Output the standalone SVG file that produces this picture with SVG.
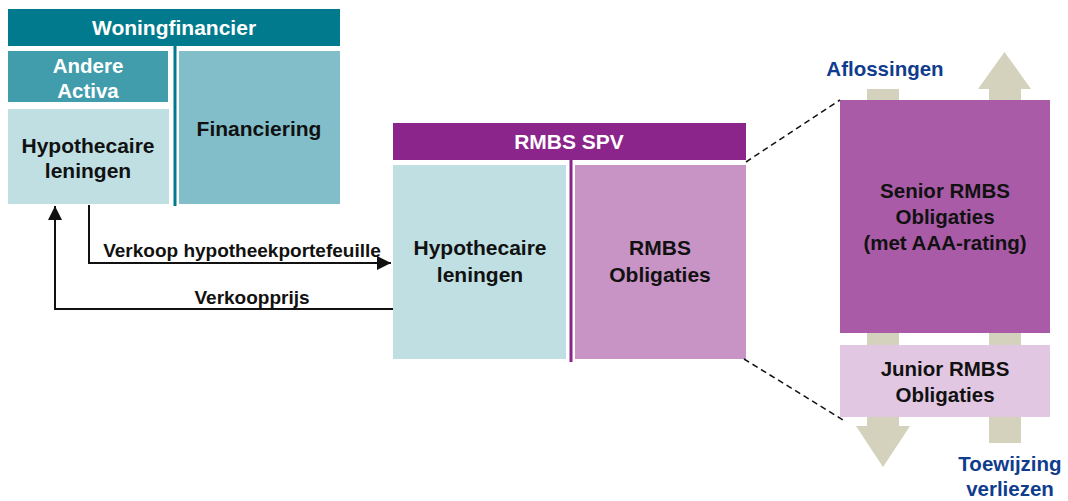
<svg xmlns="http://www.w3.org/2000/svg" width="1068" height="501" viewBox="0 0 1068 501">
<defs>
<style>
text{font-family:"Liberation Sans",Arial,sans-serif;font-weight:bold;text-anchor:middle}
.w{fill:#fff}
.k{fill:#111}
.b{fill:#103C8E}
.f21{font-size:21px}
.f20{font-size:20.5px}
.f19{font-size:19px}
.tan{fill:#D4D1BC}
.conn{stroke:#111;stroke-width:2;fill:none}
.dash{stroke:#111;stroke-width:1.5;fill:none;stroke-dasharray:6,4}
</style>
<marker id="ah" viewBox="0 0 10 10" refX="10" refY="5" markerWidth="14" markerHeight="14" markerUnits="userSpaceOnUse" orient="auto">
<path d="M0,0 L10,5 L0,10 Z" fill="#111"/>
</marker>
</defs>
<rect width="1068" height="501" fill="#fff"/>

<g id="woningfinancier">
<rect x="8" y="9" width="332" height="37" fill="#007A8C"/>
<text class="w f21" x="174" y="35">Woningfinancier</text>
<rect x="173.5" y="46" width="3" height="160" fill="#007A8C"/>
</g>
<g id="andere-activa">
<rect x="8" y="51" width="160" height="51" fill="#419DAB"/>
<text class="w f20" x="88" y="73">Andere</text>
<text class="w f20" x="88" y="98">Activa</text>
</g>
<g id="hypo-left">
<rect x="8" y="109" width="161" height="95" fill="#BFDFE3"/>
<text class="k f21" x="88" y="153">Hypothecaire</text>
<text class="k f21" x="88" y="178">leningen</text>
</g>
<g id="financiering">
<rect x="179" y="51" width="161" height="153" fill="#82BECA"/>
<text class="k f21" x="259" y="136">Financiering</text>
</g>

<g id="rmbs-spv">
<rect x="393" y="123" width="353" height="37" fill="#8B248B"/>
<text class="w f21" x="569" y="149">RMBS SPV</text>
<rect x="569.5" y="160" width="3" height="202" fill="#8B248B"/>
</g>
<g id="hypo-spv">
<rect x="393" y="165" width="173" height="194" fill="#BFDFE3"/>
<text class="k f21" x="480" y="255">Hypothecaire</text>
<text class="k f21" x="480" y="282">leningen</text>
</g>
<g id="rmbs-obligaties">
<rect x="575" y="165" width="171" height="194" fill="#C893C5"/>
<text class="k f21" x="660" y="255">RMBS</text>
<text class="k f21" x="660" y="282">Obligaties</text>
</g>

<g id="flows">
<rect class="tan" x="867" y="89" width="32" height="338"/>
<polygon class="tan" points="856,426 910,426 883,467"/>
<rect class="tan" x="989" y="88" width="32" height="355"/>
<polygon class="tan" points="978,89 1031,89 1004.5,52"/>
</g>
<g id="senior">
<rect x="840" y="100" width="210" height="233" fill="#A95BA8"/>
<text class="k f20" x="945" y="198">Senior RMBS</text>
<text class="k f20" x="945" y="224">Obligaties</text>
<text class="k f20" x="945" y="250">(met AAA-rating)</text>
</g>
<g id="junior">
<rect x="840" y="345" width="210" height="72" fill="#E2C7E2"/>
<text class="k f20" x="945" y="376">Junior RMBS</text>
<text class="k f20" x="945" y="402">Obligaties</text>
</g>
<g id="labels">
<text class="b f20" x="885" y="76">Aflossingen</text>
<text class="b f20" x="1010" y="471">Toewijzing</text>
<text class="b f20" x="1010" y="496">verliezen</text>
</g>

<g id="connectors">
<polyline class="conn" points="89,205 89,263 391,263" marker-end="url(#ah)"/>
<polyline class="conn" points="393,309 55,309 55,206" marker-end="url(#ah)"/>
<line class="dash" x1="746" y1="162" x2="840" y2="100"/>
<line class="dash" x1="744" y1="359" x2="843" y2="420"/>
<text class="k f19" x="242" y="257">Verkoop hypotheekportefeuille</text>
<text class="k f19" x="252" y="304">Verkoopprijs</text>
</g>
</svg>
